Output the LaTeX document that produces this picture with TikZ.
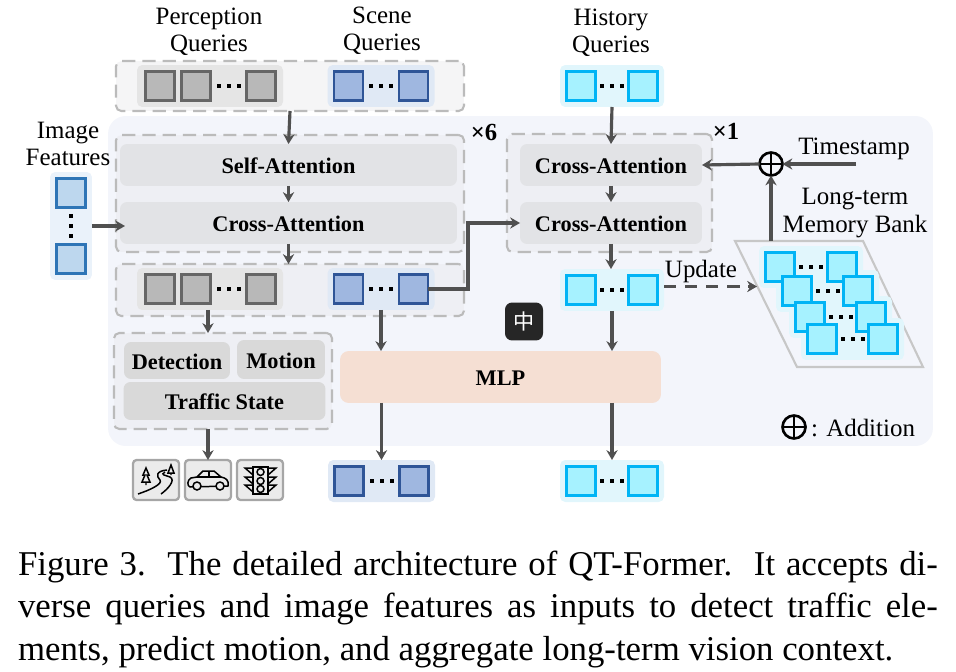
\documentclass[tikz,border=0pt]{standalone}
\usepackage{fontspec}
\setmainfont{Liberation Serif}
\newfontfamily\cjkfont{Noto Sans CJK SC}
\usetikzlibrary{arrows.meta,calc}
\definecolor{panelbg}{HTML}{F3F5FB}
\definecolor{loopbg}{HTML}{EEEFF4}
\definecolor{topbg}{HTML}{F5F5F6}
\definecolor{dashgray}{HTML}{BBBBBB}
\definecolor{blockgray}{HTML}{E2E3E6}
\definecolor{taskgray}{HTML}{D9D9D9}
\definecolor{arrowgray}{HTML}{505050}
\definecolor{mlpfill}{HTML}{F5DFD3}
\definecolor{qbluebd}{HTML}{2F5597}
\definecolor{qbluefl}{HTML}{9FB7E0}
\definecolor{qblueback}{HTML}{E0E9F5}
\definecolor{qcyanbd}{HTML}{00B4F5}
\definecolor{qcyanfl}{HTML}{A6F2FF}
\definecolor{qcyanback}{HTML}{E1F6FC}
\definecolor{qskybd}{HTML}{2E75B6}
\definecolor{qskyfl}{HTML}{BDD7EE}
\definecolor{qskyback}{HTML}{EAF2FA}

\tikzset{
labeltext/.style={font=\fontsize{14.2}{15.4}\selectfont,align=center},
blocktext/.style={font=\fontsize{12.7}{15}\selectfont\bfseries,text height=10pt,text depth=0pt},
dashbox/.style={draw=dashgray,dash pattern=on 7.5pt off 4pt,line width=1.2pt,rounded corners=3pt},
sqbase/.style={minimum size=0.58cm,line width=1.25pt},
qgray/.style={sqbase,draw=black!60,fill=black!28},
qblue/.style={sqbase,draw=qbluebd,fill=qbluefl},
qcyan/.style={sqbase,draw=qcyanbd,fill=qcyanfl},
qsky/.style={sqbase,draw=qskybd,fill=qskyfl},
qgray back/.style={fill=black!10,rounded corners=3pt,minimum height=0.84cm},
qblue back/.style={fill=qblueback,rounded corners=3pt,minimum height=0.84cm},
qcyan back/.style={fill=qcyanback,rounded corners=3pt,minimum height=0.84cm},
qsky back/.style={fill=qskyback,rounded corners=3pt,minimum width=0.84cm},
block/.style={fill=blockgray,rounded corners=4pt,blocktext},
taskblock/.style={fill=taskgray,rounded corners=4pt,blocktext},
iconbox/.style={draw=black!35,fill=black!8,line width=1.3pt,rounded corners=2pt,minimum width=0.92cm,minimum height=0.8cm},
icon/.style={line width=0.85pt},
qdot/.style={fill=black,minimum size=0.08cm},
arw/.style={-{Stealth[length=5.6pt,width=6.4pt]},draw=arrowgray,line width=1.8pt},
oplus/.style={draw,circle,line width=1.5pt,minimum size=0.46cm,
  path picture={\draw[line width=1.2pt] (path picture bounding box.north) -- (path picture bounding box.south)
    (path picture bounding box.west) -- (path picture bounding box.east);}},
}

% name, style, left square, right square, y
\newcommand{\qback}[5]{
\node[#2 back,minimum width={(#4-#3+42)*0.02cm}] (#1) at ({(#3+#4)/2},#5) {};
}
\newcommand{\qrow}[5]{
\node[#2] (#1l) at (#3,#5) {};
\node[#2] (#1r) at (#4,#5) {};
\foreach \i in {-1,0,1} \node[qdot] at ({(#3+#4)/2+\i*10},#5) {};
}
\newcommand{\qpair}[5]{\qback{#1}{#2}{#3}{#4}{#5}\qrow{#1}{#2}{#3}{#4}{#5}}

\begin{document}
\begin{tikzpicture}[x=0.02cm,y=-0.02cm,inner sep=0pt,outer sep=0pt]
\useasboundingbox (0,0) rectangle (956,672);

\node[fill=panelbg,rounded corners=10pt,minimum width=16.5cm,minimum height=6.6cm] (panel) at (520.5,281) {};

% inputs
\node[labeltext] (percLabel) at (209,32) {Perception\\Queries};
\node[labeltext] (sceneLabel) at (382,31) {Scene\\Queries};
\node[labeltext] (histLabel) at (611,33) {History\\Queries};
\node[labeltext] (imgLabel) at (68,144) {Image\\Features};

\node[dashbox,fill=topbg,minimum width=6.96cm,minimum height=1cm] (top) at (290,86) {};
\qback{perc}{qgray}{158}{262}{86}
\node[qgray] (percf) at (160,86) {};
\qrow{perc}{qgray}{196}{261}{86}
\qpair{scene}{qblue}{348.5}{413.5}{86}
\qpair{hist}{qcyan}{581}{643}{86}

\node[qsky back,minimum height=2.16cm] (img) at (71,226) {};
\node[qsky] (imgt) at (71,193) {};
\node[qsky] (imgb) at (71,259) {};
\foreach \i in {216,226,236} \node[qdot] at (71,\i) {};

% left loop
\node[dashbox,fill=loopbg,minimum width=6.96cm,minimum height=2.34cm] (loopA) at (290,193.5) {};
\node[block,minimum width=6.74cm,minimum height=0.84cm] (selfA) at (288.5,165) {Self-Attention};
\node[block,minimum width=6.74cm,minimum height=0.84cm] (crossA) at (288.5,223) {Cross-Attention};
\node[font=\fontsize{14}{15}\selectfont\bfseries] (timesA) at (484,132) {×6};

\node[dashbox,fill=loopbg,minimum width=6.96cm,minimum height=1.04cm] (outA) at (290,290) {};
\qback{pout}{qgray}{158}{262}{289}
\node[qgray] (poutf) at (160,289) {};
\qrow{pout}{qgray}{196}{261}{289}
\qpair{sout}{qblue}{348.5}{413.5}{289}

% right loop
\node[dashbox,fill=loopbg,minimum width=4.1cm,minimum height=2.36cm] (loopB) at (609.5,193) {};
\node[block,minimum width=3.64cm,minimum height=0.84cm] (crossB) at (611,165) {Cross-Attention};
\node[block,minimum width=3.64cm,minimum height=0.84cm] (crossC) at (611,223) {Cross-Attention};
\node[font=\fontsize{14}{15}\selectfont\bfseries] (timesB) at (726,131) {×1};
\qpair{hout}{qcyan}{581}{643}{290}

% memory bank
\node[labeltext] (stamp) at (854,149) {Timestamp};
\node[labeltext] (bankLabel) at (855,213) {Long-term\\Memory Bank};
\node[oplus] (add) at (771,164) {};
\coordinate (bankTop) at (771,241);
\coordinate (bankIn) at (757,286.5);
\coordinate (stampEnd) at (856,164);
\draw[draw=black!22,line width=1.2pt] (735,241) -- (863,241) -- (923,367) -- (797,367) -- cycle;
\foreach \lx/\rx/\yy [count=\n] in {780/842/267,797/858/291,810/871/317,822/883/339}
  {\qback{memb\n}{qcyan}{\lx}{\rx}{\yy}}
\foreach \lx/\rx/\yy [count=\n] in {780/842/267,797/858/291,810/871/317,822/883/339}
  {\qrow{mem\n}{qcyan}{\lx}{\rx}{\yy}}

% tasks
\node[dashbox,fill=loopbg,minimum width=4.36cm,minimum height=1.92cm] (task) at (223,381) {};
\node[taskblock,minimum width=2.12cm,minimum height=0.74cm] (det) at (177,360.5) {Detection};
\node[taskblock,minimum width=1.76cm,minimum height=0.78cm] (motion) at (281,359.5) {Motion};
\node[taskblock,minimum width=4.04cm,minimum height=0.76cm] (traffic) at (224.5,401) {Traffic State};

\node[fill=mlpfill,rounded corners=5pt,blocktext,minimum width=6.42cm,minimum height=1.04cm] (mlp) at (500.5,377) {MLP};

% outputs
\node[iconbox] (road) at (156,480) {};
\node[iconbox] (car) at (208,480) {};
\node[iconbox] (light) at (260,480) {};
\qpair{sfin}{qblue}{349}{414}{481}
\qpair{hfin}{qcyan}{581}{643}{481}

\draw[icon] (138,494) .. controls (150,490) and (163,484) .. (160,480) .. controls (156,476) and (156,471) .. (167,470);
\draw[icon] (161,494) .. controls (168,489) and (176,480) .. (170,477) .. controls (165,475) and (160,475) .. (165,472);
\draw[icon] (146,468) -- (143,475) -- (145,475) -- (142,482) -- (150,482) -- (147,475) -- (149,475) -- cycle (146,482) -- (146,485);
\draw[icon] (171,465) -- (168,473) -- (174,473) -- cycle (171,473) -- (171,475);
\draw[icon] (190,487) .. controls (187,486) and (187,480) .. (191,478) -- (197,477) -- (203,471) -- (214,471) -- (221,477) .. controls (226,478) and (229,480) .. (228,486) -- (190,487);
\draw[icon,fill=black!8] (197,486) circle (4) (220,486) circle (4);
\draw[icon] (197,477) -- (221,477) (209,471) -- (209,477);
\draw[icon] (253,467) rectangle (268,494);
\foreach \yy in {472,481,489} {
  \draw[icon] (260.5,\yy) circle (3.5);
  \draw[icon] (253,\yy-4) -- (245,\yy-4) -- (253,\yy+3);
  \draw[icon] (268,\yy-4) -- (276,\yy-4) -- (268,\yy+3);
}

% legend
\node[oplus] (addKey) at (794,427) {};
\node[labeltext] (addText) at (863,428) {: Addition};

% input method badge
\node[fill=black!85,rounded corners=4pt,minimum size=0.76cm,text=white,font=\cjkfont\fontsize{12}{14}\selectfont] (badge) at (524,321.5) {中};

% connectors
\draw[arw] (top.south) -- (selfA.north);
\draw[arw] (selfA.south) -- (crossA.north);
\draw[arw] (crossA.south) -- (crossA.south |- outA.north);
\draw[arw] (img.east) -- ++(0.66cm,0) coordinate (imgEnd);
\draw[arw] (hist.south) -- (crossB.north);
\draw[arw] (crossB.south) -- (crossC.north);
\draw[arw] (crossC.south) -- (crossC.south |- hout.north);
\draw[arw] (soutr.east) -- ++(0.8cm,0) |- (crossC.west);
\draw[arw] (stampEnd) -- (add.east);
\draw[arw] (add.west) -- (crossB.east);
\draw[arw] (bankTop) -- (add.south);
\draw[arw,dash pattern=on 7pt off 5pt] (hout.east |- bankIn) -- (bankIn);
\node[labeltext] (update) at (701,272) {Update};
\draw[arw] (pout.south -| car) -- (car |- task.north);
\draw[arw] (car |- task.south) -- (car.north);
\draw[arw] (sout.south) -- (sout.south |- mlp.north);
\draw[arw] (hout.south) -- (hout.south |- mlp.north);
\draw[arw] (sfin.north |- mlp.south) -- (sfin.north);
\draw[arw] (hfin.north |- mlp.south) -- (hfin.north);

% caption
\node[font=\fontsize{19.8}{24}\selectfont,anchor=west] (capA) at (18,567) {\makebox[18.4cm][s]{Figure 3.\ \ The detailed architecture of QT-Former.\ \ It accepts di-}};
\node[font=\fontsize{19.8}{24}\selectfont,anchor=west] (capB) at (18,609) {\makebox[18.4cm][s]{verse queries and image features as inputs to detect traffic ele-}};
\node[font=\fontsize{19.8}{24}\selectfont,anchor=west] (capC) at (18,652) {ments, predict motion, and aggregate long-term vision context.};
\end{tikzpicture}
\end{document}
